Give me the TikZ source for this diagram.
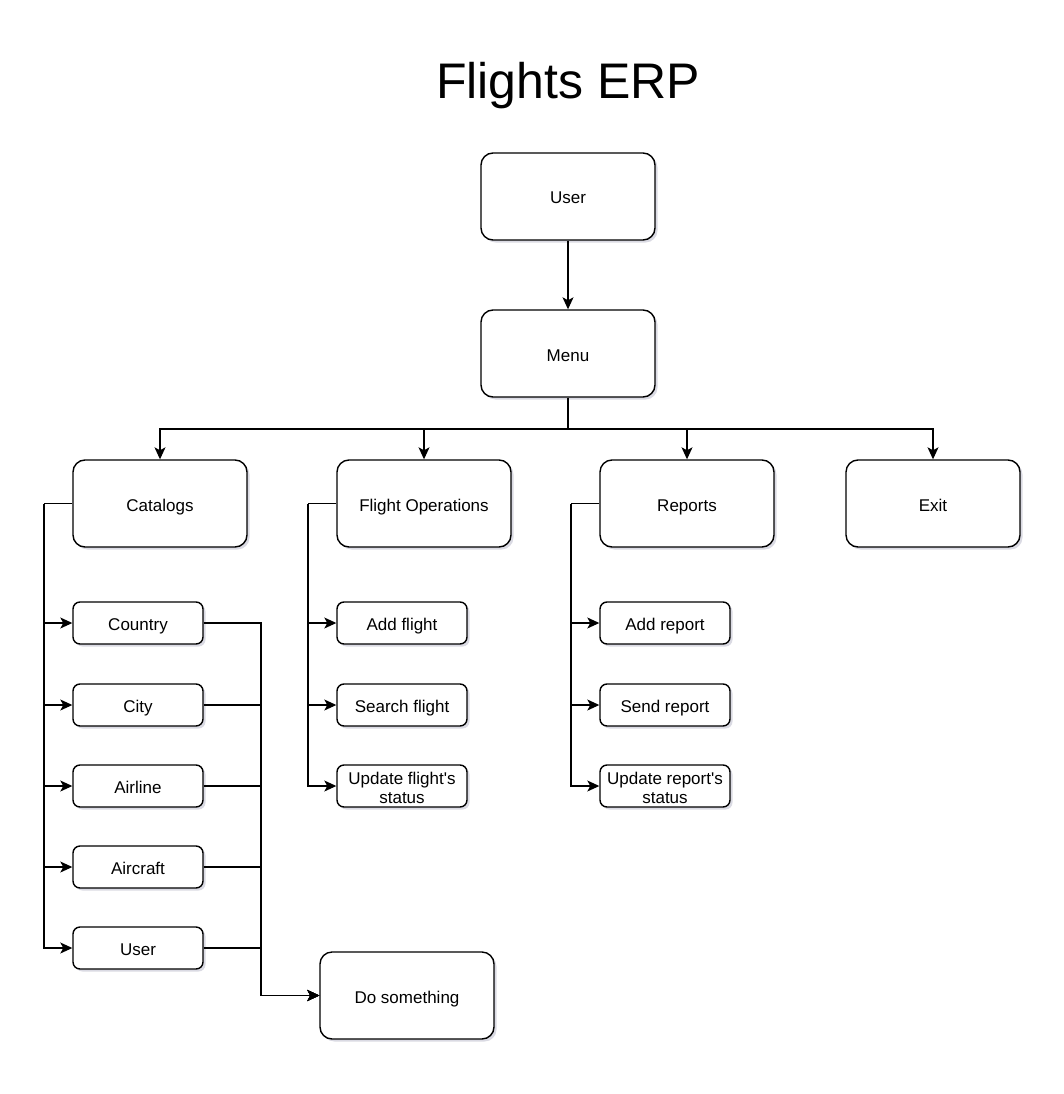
\documentclass[tikz,border=0pt]{standalone}
\usepackage{fontspec}
\setmainfont[Ligatures=TeXOff]{Liberation Sans}
\usetikzlibrary{arrows.meta,shadows}
\definecolor{shd}{RGB}{150,150,175}
\tikzset{
  base/.style={draw=black, line width=1.4pt, fill=white, rounded corners=12pt, align=center,
    font=\fontsize{17}{20}\selectfont, inner sep=0pt,
    drop shadow={shadow xshift=2.5pt, shadow yshift=-2.5pt, fill=shd, opacity=0.35}},
  oneline/.style={text height=15pt, text depth=0pt},
  bigbox/.style={base, oneline, minimum width=174pt, minimum height=87pt},
  smallbox/.style={base, oneline, rounded corners=7pt, minimum width=130pt, minimum height=42pt},
  twobox/.style={base, rounded corners=7pt, minimum width=130pt, minimum height=42pt},
  twotext/.style={align=center, font=\fontsize{17}{19.5}\selectfont, inner sep=0pt},
  conn/.style={draw=black, line width=1.15pt},
  arr/.style={conn, -{Stealth[length=12pt,width=11pt,inset=3pt]}}
}
\begin{document}
\begin{tikzpicture}[x=1pt,y=-1pt]
\useasboundingbox[fill=white] (0,0) rectangle (1063,1094);
% title
\node[font=\fontsize{50}{56}\selectfont] (title) at (568,86) {Flights ERP};

\node[bigbox] (user) at (568,196.5) {User};
\node[bigbox] (menu) at (568,353.5) {Menu};
\node[bigbox] (cat) at (160,503.5) {Catalogs};
\node[bigbox] (fops) at (424,503.5) {Flight Operations};
\node[bigbox] (rep) at (687,503.5) {Reports};
\node[bigbox] (exit) at (933,503.5) {Exit};
\node[bigbox] (do) at (407,995.5) {Do something};

\node[smallbox] (country) at (138,623) {Country};
\node[smallbox] (city) at (138,705) {City};
\node[smallbox] (airline) at (138,786) {Airline};
\node[smallbox] (aircraft) at (138,867) {Aircraft};
\node[smallbox] (cuser) at (138,948) {User};

\node[smallbox] (addf) at (402,623) {Add flight};
\node[smallbox] (searchf) at (402,705) {Search flight};
\node[twobox] (updf) at (402,786) {};
\node[twotext] (updft) at (402,788) {Update flight's\\status};

\node[smallbox] (addr) at (665,623) {Add report};
\node[smallbox] (sendr) at (665,705) {Send report};
\node[twobox] (updr) at (665,786) {};
\node[twotext] (updrt) at (665,788) {Update report's\\status};

% connectors
\draw[arr] (user.south) -- (menu.north);
\coordinate (bus) at (568,429);
\draw[conn] (menu.south) -- (bus);
\draw[arr] (bus) -| (cat.north);
\draw[arr] (bus) -| (fops.north);
\draw[arr] (bus) -| (rep.north);
\draw[arr] (bus) -| (exit.north);

\coordinate (cl) at (44,503.5);
\draw[conn] (cat.west) -- (cl);
\foreach \t in {country,city,airline,aircraft,cuser}
  \draw[arr] (cl) |- (\t.west);

\coordinate (fl) at (308,503.5);
\draw[conn] (fops.west) -- (fl);
\foreach \t in {addf,searchf,updf}
  \draw[arr] (fl) |- (\t.west);

\coordinate (rl) at (571,503.5);
\draw[conn] (rep.west) -- (rl);
\foreach \t in {addr,sendr,updr}
  \draw[arr] (rl) |- (\t.west);

\coordinate (dj) at (261,995.5);
\foreach \t in {country,city,airline,aircraft,cuser}
  \draw[arr] (\t.east) -| (dj) -- (do.west);
\end{tikzpicture}
\end{document}
